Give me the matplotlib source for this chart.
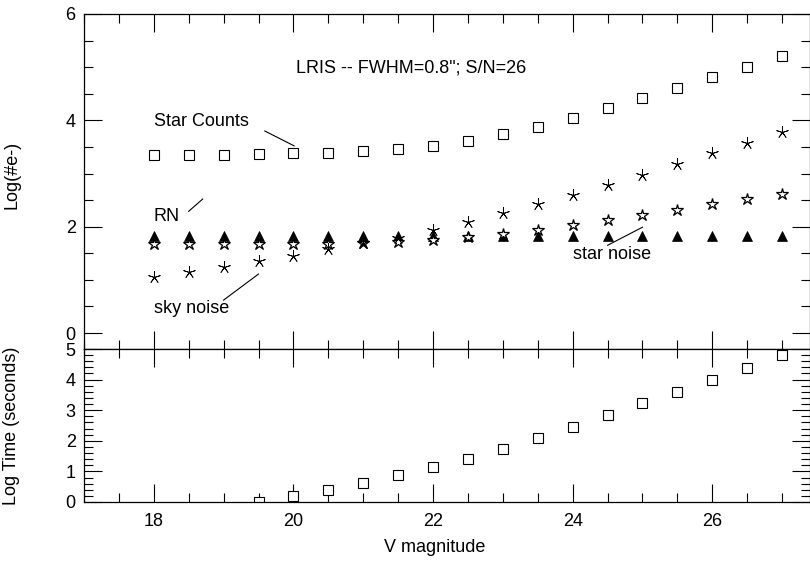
import matplotlib
matplotlib.use('Agg')
import matplotlib.pyplot as plt
from matplotlib.ticker import MultipleLocator

plt.rcParams['font.family'] = ['Liberation Sans', 'DejaVu Sans']

# V magnitudes for the top panel
mag = [18.0, 18.5, 19.0, 19.5, 20.0, 20.5, 21.0, 21.5, 22.0, 22.5,
       23.0, 23.5, 24.0, 24.5, 25.0, 25.5, 26.0, 26.5, 27.0]

# log(#e-)
star_counts = [3.35, 3.35, 3.35, 3.36, 3.38, 3.39, 3.42, 3.46, 3.52, 3.61,
               3.74, 3.87, 4.04, 4.23, 4.42, 4.61, 4.81, 5.00, 5.21]
read_noise = [1.83, 1.83, 1.83, 1.83, 1.83, 1.83, 1.83, 1.83, 1.83, 1.83,
              1.83, 1.83, 1.83, 1.83, 1.83, 1.83, 1.83, 1.83, 1.83]
star_noise = [1.68, 1.68, 1.68, 1.68, 1.68, 1.68, 1.70, 1.72, 1.75, 1.80,
              1.86, 1.94, 2.03, 2.12, 2.22, 2.31, 2.42, 2.52, 2.61]
sky_noise = [1.05, 1.15, 1.24, 1.35, 1.45, 1.58, 1.69, 1.79, 1.94, 2.09,
             2.25, 2.42, 2.60, 2.79, 2.98, 3.18, 3.38, 3.57, 3.78]

# log exposure time (bottom panel)
time_mag = [19.5, 20.0, 20.5, 21.0, 21.5, 22.0, 22.5, 23.0,
            23.5, 24.0, 24.5, 25.0, 25.5, 26.0, 26.5, 27.0]
log_time = [0.00, 0.20, 0.39, 0.62, 0.87, 1.13, 1.41, 1.73,
            2.08, 2.44, 2.83, 3.22, 3.61, 4.00, 4.39, 4.79]

TITLE = 'LRIS -- FWHM=0.8"; S/N=26'
FS = 13
TFS = 13

fig = plt.figure(figsize=(8.1, 5.61), dpi=100)
ax1 = fig.add_axes([84 / 810, 1 - 349 / 561, 726 / 810, 335 / 561])
ax2 = fig.add_axes([84 / 810, 1 - 502 / 561, 726 / 810, 153 / 561])


def style(ax, ymajor, yminor):
    ax.set_xlim(17.0, 27.4)
    ax.xaxis.set_major_locator(MultipleLocator(2))
    ax.xaxis.set_minor_locator(MultipleLocator(0.5))
    ax.yaxis.set_major_locator(MultipleLocator(ymajor))
    ax.yaxis.set_minor_locator(MultipleLocator(yminor))
    ax.tick_params(which='both', direction='in', top=True, right=True,
                   width=0.8, labelsize=FS, color='black')
    ax.tick_params(which='major', length=13)
    ax.tick_params(which='minor', length=6.5)
    ax.tick_params(axis='x', pad=8)
    ax.tick_params(axis='y', pad=6)
    for s in ax.spines.values():
        s.set_linewidth(0.9)


style(ax1, 2, 0.5)
ax1.set_ylim(-0.3, 6)
ax1.tick_params(axis='x', labelbottom=False)

ax1.plot(mag, star_counts, ls='none', marker='s', ms=6.5, mfc='white',
         mec='black', mew=0.8)
ax1.plot(mag, read_noise, ls='none', marker='^', ms=6.5, mfc='black',
         mec='black', mew=0.5)
ax1.plot(mag, star_noise, ls='none', marker='*', ms=9, mfc='white',
         mec='black', mew=0.9)
ax1.plot(mag, sky_noise, ls='none', marker=(5, 2, 0), ms=9,
         mec='black', mew=0.6)

ax1.text(21.68, 4.98, TITLE, fontsize=TFS, ha='center', va='center')
ax1.text(18.0, 3.98, 'Star Counts', fontsize=TFS, ha='left', va='center')
ax1.plot([19.59, 20.01], [3.80, 3.52], color='black', lw=0.8)
ax1.text(18.0, 2.20, 'RN', fontsize=TFS, ha='left', va='center')
ax1.plot([18.50, 18.70], [2.29, 2.52], color='black', lw=0.8)
ax1.text(18.0, 0.47, 'sky noise', fontsize=TFS, ha='left', va='center')
ax1.plot([19.0, 19.5], [0.62, 1.11], color='black', lw=0.8)
ax1.text(24.0, 1.48, 'star noise', fontsize=TFS, ha='left', va='center')
ax1.plot([24.5, 25.0], [1.65, 1.99], color='black', lw=0.8)

ax1.set_ylabel('Log(#e-)', fontsize=FS)
ax1.yaxis.set_label_coords(-0.088, 0.52)

style(ax2, 1, 0.2)
ax2.set_ylim(0, 5)
ax2.plot(time_mag, log_time, ls='none', marker='s', ms=6.5, mfc='white',
         mec='black', mew=0.8)
ax2.set_ylabel('Log Time (seconds)', fontsize=FS)
ax2.yaxis.set_label_coords(-0.088, 0.5)
ax2.set_xlabel('V magnitude', fontsize=FS)
ax2.xaxis.set_label_coords(0.483, -0.245)

fig.savefig('out.png', dpi=100)
